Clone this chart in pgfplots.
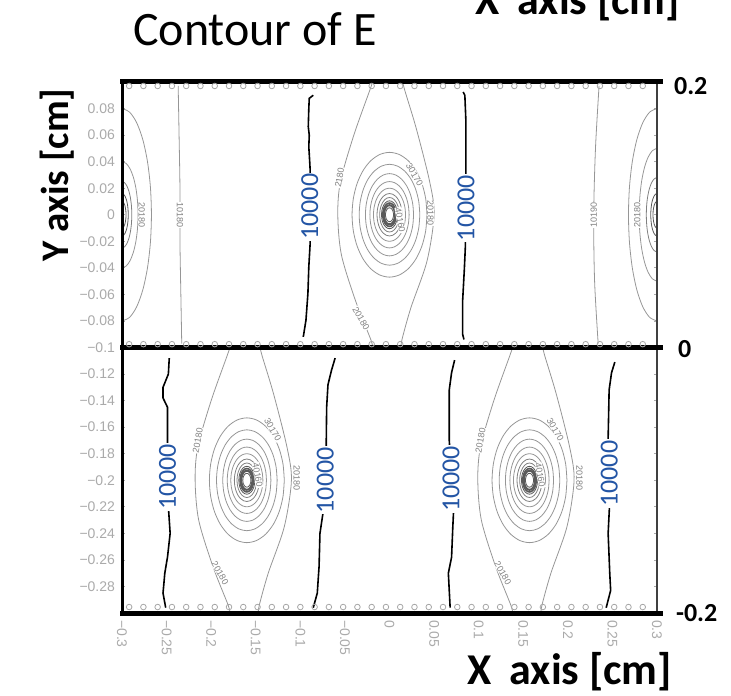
\documentclass[border=0pt]{standalone}
\usepackage{pgfplots}
\pgfplotsset{compat=1.18}
\usepackage{pgfplotstable}
\usepackage{fontspec}
\setmainfont{Carlito}
\newfontfamily\arial{Liberation Sans}
\definecolor{lbl}{RGB}{35,85,165}
\definecolor{cgray}{RGB}{150,150,150}
\definecolor{tgray}{RGB}{170,170,170}
\definecolor{dgray}{RGB}{90,90,90}

\pgfplotstableread{
c s
1 0
0.9659 0.2588
0.8660 0.5
0.7071 0.7071
0.5 0.8660
0.2588 0.9659
0 1
-0.2588 0.9659
-0.5 0.8660
-0.7071 0.7071
-0.8660 0.5
-0.9659 0.2588
-1 0
-0.9659 -0.2588
-0.8660 -0.5
-0.7071 -0.7071
-0.5 -0.8660
-0.2588 -0.9659
0 -1
0.2588 -0.9659
0.5 -0.8660
0.7071 -0.7071
0.8660 -0.5
0.9659 -0.2588
1 0
}\unitcirc

\pgfplotstableread{
c s
0 -1
0.2588 -0.9659
0.5 -0.8660
0.7071 -0.7071
0.8660 -0.5
0.9659 -0.2588
1 0
0.9659 0.2588
0.8660 0.5
0.7071 0.7071
0.5 0.8660
0.2588 0.9659
0 1
}\halfcirc

\pgfplotstableread{
dx dy
-0.019 0.1
-0.022 0.094
-0.040 0.060
-0.055 0.025
-0.058 0.0
-0.054 -0.030
-0.038 -0.065
-0.021 -0.094
-0.019 -0.1
}\barrelL

\pgfplotstableread{
dx dy
0.015 0.1
0.017 0.094
0.030 0.065
0.045 0.025
0.050 0.0
0.042 -0.035
0.024 -0.070
0.014 -0.094
0.013 -0.1
}\barrelR

\pgfplotstableread{
x top mid bot
-0.292 0.097 -0.0975 -0.2955
-0.276 0.097 -0.0975 -0.2955
-0.260 0.097 -0.0975 -0.2955
-0.244 0.097 -0.0975 -0.2955
-0.228 0.097 -0.0975 -0.2955
-0.212 0.097 -0.0975 -0.2955
-0.196 0.097 -0.0975 -0.2955
-0.180 0.097 -0.0975 -0.2955
-0.164 0.097 -0.0975 -0.2955
-0.148 0.097 -0.0975 -0.2955
-0.132 0.097 -0.0975 -0.2955
-0.116 0.097 -0.0975 -0.2955
-0.100 0.097 -0.0975 -0.2955
-0.084 0.097 -0.0975 -0.2955
-0.068 0.097 -0.0975 -0.2955
-0.052 0.097 -0.0975 -0.2955
-0.036 0.097 -0.0975 -0.2955
-0.020 0.097 -0.0975 -0.2955
-0.004 0.097 -0.0975 -0.2955
0.012 0.097 -0.0975 -0.2955
0.028 0.097 -0.0975 -0.2955
0.044 0.097 -0.0975 -0.2955
0.060 0.097 -0.0975 -0.2955
0.076 0.097 -0.0975 -0.2955
0.092 0.097 -0.0975 -0.2955
0.108 0.097 -0.0975 -0.2955
0.124 0.097 -0.0975 -0.2955
0.140 0.097 -0.0975 -0.2955
0.156 0.097 -0.0975 -0.2955
0.172 0.097 -0.0975 -0.2955
0.188 0.097 -0.0975 -0.2955
0.204 0.097 -0.0975 -0.2955
0.220 0.097 -0.0975 -0.2955
0.236 0.097 -0.0975 -0.2955
0.252 0.097 -0.0975 -0.2955
0.268 0.097 -0.0975 -0.2955
0.284 0.097 -0.0975 -0.2955
}\circrow

\pgfplotstableread{
x y
-0.0855 0.090
-0.0900 0.0877
-0.0905 0.080
-0.0911 0.0663
-0.0900 0.060
-0.0905 0.0512
-0.0895 0.040
-0.0890 0.0337
-0.0890 -0.0216
-0.0905 -0.0392
-0.0915 -0.0592
-0.0937 -0.0794
-0.0967 -0.092
}\tkA

\pgfplotstableread{
x y
0.0826 0.0925
0.0845 0.0900
0.0857 0.070
0.0857 0.033
0.0850 -0.025
0.0840 -0.040
0.0820 -0.065
0.0820 -0.090
0.0835 -0.094
}\tkB

\pgfplotstableread{
x y
-0.247 -0.108
-0.248 -0.120
-0.254 -0.130
-0.254 -0.138
-0.249 -0.145
-0.249 -0.165
-0.249 -0.175
-0.248 -0.220
-0.246 -0.240
-0.249 -0.258
-0.252 -0.270
-0.254 -0.285
-0.251 -0.296
}\tkC

\pgfplotstableread{
x y
-0.061 -0.108
-0.065 -0.117
-0.069 -0.128
-0.0705 -0.145
-0.071 -0.175
-0.074 -0.222
-0.078 -0.240
-0.079 -0.265
-0.081 -0.285
-0.0855 -0.296
}\tkD

\pgfplotstableread{
x y
0.073 -0.1095
0.0696 -0.119
0.067 -0.132
0.067 -0.170
0.072 -0.221
0.071 -0.235
0.0696 -0.258
0.066 -0.270
0.068 -0.296
}\tkE

\pgfplotstableread{
x y
0.2527 -0.111
0.249 -0.119
0.2463 -0.132
0.2452 -0.168
0.247 -0.2155
0.2452 -0.240
0.247 -0.270
0.248 -0.283
0.243 -0.296
}\tkF

\newcommand{\contourell}[5]{\addplot[#5] table[x expr={#1+(#3)*\thisrow{c}}, y expr={#2+(#4)*\thisrow{s}}]{\unitcirc};}
\newcommand{\halfell}[5]{\addplot[#5] table[x expr={#1+(#3)*\thisrow{c}}, y expr={#2+(#4)*\thisrow{s}}]{\halfcirc};}
\newcommand{\barrel}[2]{%
\addplot[cgray,smooth] table[x expr={#1+\thisrow{dx}}, y expr={#2+\thisrow{dy}}]{\barrelL};
\addplot[cgray,smooth] table[x expr={#1+\thisrow{dx}}, y expr={#2+\thisrow{dy}}]{\barrelR};}
\newcommand{\rings}[2]{%
\contourell{#1}{#2}{0.042}{0.047}{cgray,smooth}
\contourell{#1}{#2}{0.034}{0.038}{cgray,smooth}
\contourell{#1}{#2}{0.027}{0.031}{cgray,smooth}
\contourell{#1}{#2}{0.022}{0.025}{cgray,smooth}
\contourell{#1}{#2}{0.018}{0.020}{cgray,smooth}
\contourell{#1}{#2}{0.014}{0.016}{gray,smooth}
\contourell{#1}{#2}{0.011}{0.013}{gray,smooth}
\contourell{#1}{#2}{0.009}{0.0105}{dgray,smooth}
\contourell{#1}{#2}{0.0075}{0.0088}{dgray,smooth,line width=0.8pt}
\contourell{#1}{#2}{0.0062}{0.0072}{dgray,smooth,line width=1pt}
\contourell{#1}{#2}{0.0045}{0.0052}{draw=dgray,fill=white,smooth}
}
\newcommand{\tklabel}[2]{%
\node[rotate=90, fill=white, inner sep=0.6pt, text=lbl, font=\fontsize{13}{13}\selectfont] at (axis cs:#1,#2) {10000};}
\newcommand{\clab}[4]{\node[rotate=#3, fill=white, inner sep=0.2pt, text=gray, font=\arial\fontsize{4.5}{4.5}\selectfont] at (axis cs:#1,#2) {#4};}

\begin{document}
\begin{tikzpicture}
\useasboundingbox (0,0) rectangle (365.5pt,347.5pt);
\begin{axis}[
  at={(61pt,41pt)}, anchor=south west,
  scale only axis, width=267.5pt, height=265.5pt,
  xmin=-0.3, xmax=0.3, ymin=-0.3, ymax=0.1,
  clip=false,
  axis line style={draw=none},
  xtick={-0.3,-0.25,-0.2,-0.15,-0.1,-0.05,0,0.05,0.1,0.15,0.2,0.25,0.3},
  xticklabels={−0.3,−0.25,−0.2,−0.15,−0.1,−0.05,0,0.05,0.1,0.15,0.2,0.25,0.3},
  xticklabel style={rotate=-90, anchor=west, text=tgray, font=\arial\fontsize{7}{7}\selectfont},
  xtick style={draw=none},
  ytick={-0.28,-0.26,-0.24,-0.22,-0.2,-0.18,-0.16,-0.14,-0.12,-0.1,-0.08,-0.06,-0.04,-0.02,0,0.02,0.04,0.06,0.08},
  yticklabels={−0.28,−0.26,−0.24,−0.22,−0.2,−0.18,−0.16,−0.14,−0.12,−0.1,−0.08,−0.06,−0.04,−0.02,0,0.02,0.04,0.06,0.08},
  yticklabel style={text=tgray, font=\arial\fontsize{7}{7}\selectfont},
  ytick style={tgray, thin},
  major tick length=1.5pt,
]
% top panel contours
\barrel{0}{0}
\rings{0}{0}
\halfell{-0.3}{0}{0.033}{0.08}{cgray,smooth}
\halfell{-0.3}{0}{0.018}{0.04}{cgray,smooth}
\halfell{-0.3}{0}{0.011}{0.025}{gray,smooth}
\halfell{-0.3}{0}{0.007}{0.016}{dgray,smooth}
\halfell{-0.3}{0}{0.0045}{0.01}{dgray,smooth}
\halfell{0.3}{0}{-0.032}{0.08}{cgray,smooth}
\halfell{0.3}{0}{-0.020}{0.05}{cgray,smooth}
\halfell{0.3}{0}{-0.012}{0.028}{gray,smooth}
\halfell{0.3}{0}{-0.007}{0.016}{dgray,smooth}
\halfell{0.3}{0}{-0.0045}{0.01}{dgray,smooth}
\addplot[cgray,smooth] coordinates {(-0.237,0.097) (-0.236,0.06) (-0.235,0.02) (-0.235,-0.02) (-0.234,-0.06) (-0.233,-0.097)};
\addplot[cgray,smooth] coordinates {(0.235,0.097) (0.231,0.05) (0.229,0.0) (0.230,-0.05) (0.234,-0.097)};
% bottom panel contours
\barrel{-0.16}{-0.2}
\rings{-0.16}{-0.2}
\barrel{0.157}{-0.2}
\rings{0.157}{-0.2}
% tiny contour labels
\clab{-0.235}{0}{-90}{10180}
\clab{0.229}{0}{90}{10190}
\clab{-0.056}{0.028}{80}{2180}
\clab{-0.032}{-0.078}{-60}{20180}
\clab{0.046}{0.001}{-90}{20180}
\clab{0.028}{0.03}{-60}{30170}
\clab{0.012}{-0.004}{-80}{40160}
\clab{-0.215}{-0.17}{80}{20180}
\clab{-0.19}{-0.27}{-60}{20180}
\clab{-0.104}{-0.198}{-90}{20180}
\clab{-0.131}{-0.162}{-60}{30170}
\clab{-0.148}{-0.196}{-80}{40160}
\clab{0.102}{-0.17}{80}{20180}
\clab{0.127}{-0.27}{-60}{20180}
\clab{0.213}{-0.198}{-90}{20180}
\clab{0.186}{-0.162}{-60}{30170}
\clab{0.169}{-0.196}{-80}{40160}
\clab{-0.278}{0.0}{-90}{20180}
\clab{0.278}{0.0}{90}{20180}
% 10000 lines
\addplot[black, line width=0.8pt] table[x=x,y=y]{\tkA};
\addplot[black, line width=0.8pt] table[x=x,y=y]{\tkB};
\addplot[black, line width=0.8pt] table[x=x,y=y]{\tkC};
\addplot[black, line width=0.8pt] table[x=x,y=y]{\tkD};
\addplot[black, line width=0.8pt] table[x=x,y=y]{\tkE};
\addplot[black, line width=0.8pt] table[x=x,y=y]{\tkF};
% circle rows
\addplot[only marks, mark=o, mark size=1.4pt, mark options={draw=gray!70, line width=0.4pt}] table[x=x, y=top]{\circrow};
\addplot[only marks, mark=o, mark size=1.4pt, mark options={draw=gray!70, line width=0.4pt}] table[x=x, y=mid]{\circrow};
\addplot[only marks, mark=o, mark size=1.4pt, mark options={draw=gray!70, line width=0.4pt}] table[x=x, y=bot]{\circrow};
% frame
\addplot[black, line width=1.5pt] coordinates {(-0.3,0.1) (-0.3,-0.3)};
\addplot[black!75, line width=1pt] coordinates {(0.3,0.1) (0.3,-0.3)};
\addplot[black, line width=2.5pt] coordinates {(-0.302,0.1) (0.307,0.1)};
\addplot[black, line width=2.5pt] coordinates {(-0.302,-0.1) (0.307,-0.1)};
\addplot[black, line width=2.5pt] coordinates {(-0.302,-0.3) (0.307,-0.3)};
% 10000 labels
\tklabel{-0.0895}{0.006}
\tklabel{0.0857}{0.005}
\tklabel{-0.249}{-0.1975}
\tklabel{-0.072}{-0.2}
\tklabel{0.069}{-0.199}
\tklabel{0.2465}{-0.195}
% right-side labels
\node[anchor=west, font=\bfseries\fontsize{13}{13}\selectfont, xshift=5pt, yshift=-2pt] at (axis cs:0.3,0.1) {0.2};
\node[anchor=west, font=\bfseries\fontsize{13}{13}\selectfont, xshift=7pt, yshift=-1pt] at (axis cs:0.3,-0.1) {0};
\node[anchor=west, font=\bfseries\fontsize{13}{13}\selectfont, xshift=6pt] at (axis cs:0.3,-0.3) {-0.2};
\end{axis}
\node[anchor=base, font=\fontsize{24}{24}\selectfont] at (127.5pt,324.5pt) {Contour of E};
\node[anchor=base, font=\bfseries\fontsize{22}{22}\selectfont] at (289pt,340pt) {X\, axis [cm]};
\node[anchor=base, font=\bfseries\fontsize{22}{22}\selectfont] at (285pt,5.5pt) {X\, axis [cm]};
\node[anchor=base, rotate=90, font=\bfseries\fontsize{19.5}{19.5}\selectfont] at (34pt,260pt) {Y axis [cm]};
\end{tikzpicture}
\end{document}
